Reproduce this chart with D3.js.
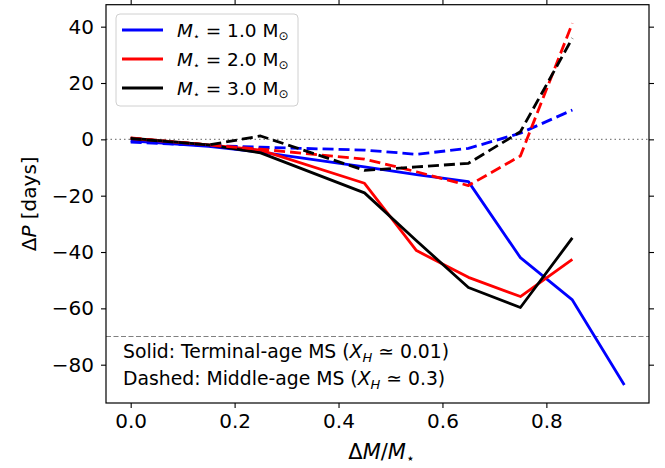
<!DOCTYPE html>
<html>
<head>
<meta charset="utf-8">
<script src="https://cdn.jsdelivr.net/npm/d3@7"></script>
<style>
body { margin: 0; background: #fff; }
text { font-family: 'DejaVu Sans', sans-serif; }
</style>
</head>
<body>
<script>
// mass lost fraction (x) and period change in days (y)
const massFrac = [0, 0.15, 0.25, 0.45, 0.55, 0.65, 0.75, 0.85, 0.95]
// solid: terminal-age MS
const tams1 = [-0.5, -2.5, -4.5, -9.8, -12.5, -15, -42, -57, -87.2]
const tams2 = [0.3, -2, -3.8, -15.6, -39.5, -49, -55.8, -42.6, null]
const tams3 = [0.4, -2, -4.8, -19, -36, -52.6, -59.7, -35, null]
// dashed: middle-age MS
const mams1 = [-1, -2.2, -2.8, -3.8, -5.3, -3.2, 2.2, 10.4, null]
const mams2 = [0.5, -2, -3.5, -7, -11.5, -16.4, -5.9, 41.2, null]
const mams3 = [0.3, -2, 1.2, -11, -9.8, -8.5, 2.7, 35.9, null]
const masses = ['1.0', '2.0', '3.0']
const colors = ['#0000ff', '#ff0000', '#000000']
const xTicks = [0, 0.2, 0.4, 0.6, 0.8]
const yTicks = [-80, -60, -40, -20, 0, 20, 40]

const width = 665, height = 468
const m = {left: 106, top: 4.7, right: 16, bottom: 65}
const w = width - m.left - m.right, h = height - m.top - m.bottom

const svg = d3.select('body').append('svg')
    .attr('width', width)
    .attr('height', height)

const x = d3.scaleLinear().domain([-0.0475, 0.9975]).range([0, w])
const y = d3.scaleLinear().domain([-93.6, 47.8]).range([h, 0])

const g = svg.append('g').attr('transform', `translate(${m.left},${m.top})`)

// reference lines
g.append('line')
    .attr('x1', 0).attr('x2', w)
    .attr('y1', y(0)).attr('y2', y(0))
    .attr('stroke', '#808080').attr('stroke-width', 1.2)
    .attr('stroke-dasharray', '1.5,3')
g.append('line')
    .attr('x1', 0).attr('x2', w)
    .attr('y1', y(-70)).attr('y2', y(-70))
    .attr('stroke', '#808080').attr('stroke-width', 1.2)
    .attr('stroke-dasharray', '5,2.5')

const series = [
    {vals: tams1, color: colors[0], dash: null},
    {vals: tams2, color: colors[1], dash: null},
    {vals: tams3, color: colors[2], dash: null},
    {vals: mams1, color: colors[0], dash: '11,5'},
    {vals: mams2, color: colors[1], dash: '11,5'},
    {vals: mams3, color: colors[2], dash: '11,5'},
]

const line = d3.line()
    .defined(d => d[1] != null)
    .x(d => x(d[0]))
    .y(d => y(d[1]))

g.selectAll('.series')
    .data(series).enter()
    .append('path')
    .attr('class', 'series')
    .attr('d', s => line(massFrac.map((v, i) => [v, s.vals[i]])))
    .attr('fill', 'none')
    .attr('stroke', s => s.color)
    .attr('stroke-width', 2.8)
    .attr('stroke-linejoin', 'round')
    .attr('stroke-dasharray', s => s.dash)

// axes on all four sides, labels only bottom/left
const fs = 20
const styleAxis = sel => {
    sel.select('.domain').remove()
    sel.selectAll('.tick line').attr('stroke', '#000').attr('stroke-width', 1.1)
    sel.selectAll('.tick text').attr('font-size', fs).attr('fill', '#000')
        .style('font-family', "'DejaVu Sans', sans-serif")
}
g.append('g').attr('transform', `translate(0,${h})`)
    .call(d3.axisBottom(x).tickValues(xTicks).tickFormat(d3.format('.1f')).tickSize(5).tickPadding(6))
    .call(styleAxis)
g.append('g')
    .call(d3.axisTop(x).tickValues(xTicks).tickFormat('').tickSize(5))
    .call(styleAxis)
g.append('g')
    .call(d3.axisLeft(y).tickValues(yTicks).tickFormat(d3.format('d')).tickSize(5).tickPadding(7))
    .call(styleAxis)
g.append('g').attr('transform', `translate(${w},0)`)
    .call(d3.axisRight(y).tickValues(yTicks).tickFormat('').tickSize(5))
    .call(styleAxis)

g.append('rect')
    .attr('width', w).attr('height', h)
    .attr('fill', 'none').attr('stroke', '#000').attr('stroke-width', 1.2)

// axis titles
const xl = svg.append('text')
    .attr('x', m.left + w / 2 + 4).attr('y', 459)
    .attr('text-anchor', 'middle').attr('font-size', 21)
xl.append('tspan').text('Δ')
xl.append('tspan').attr('font-style', 'italic').text('M')
xl.append('tspan').text('/')
xl.append('tspan').attr('font-style', 'italic').text('M')
xl.append('tspan').attr('font-size', 14).attr('dy', 4).text('⋆')

const yl = svg.append('text')
    .attr('transform', `translate(36,${m.top + h / 2}) rotate(-90)`)
    .attr('text-anchor', 'middle').attr('font-size', fs)
yl.append('tspan').text('Δ')
yl.append('tspan').attr('font-style', 'italic').text('P')
yl.append('tspan').text(' [days]')

// legend
const leg = svg.append('g').attr('transform', 'translate(116,14)')
leg.append('rect')
    .attr('width', 182).attr('height', 92).attr('rx', 4)
    .attr('fill', 'rgba(255,255,255,0.8)').attr('stroke', '#d0d0d0')
masses.forEach((ms, i) => {
    const ry = 16 + i * 29
    leg.append('line')
        .attr('x1', 6).attr('x2', 47).attr('y1', ry).attr('y2', ry)
        .attr('stroke', colors[i]).attr('stroke-width', 2.8)
    const t = leg.append('text')
        .attr('x', 61).attr('y', ry + 7).attr('font-size', 18.5)
    t.append('tspan').attr('font-style', 'italic').text('M')
    t.append('tspan').attr('font-size', 11).attr('dy', 3).text('⋆')
    t.append('tspan').attr('dy', -3).text(` = ${ms} M`)
    t.append('tspan').attr('font-size', 12).attr('dy', 3).text('⊙')
})

// annotation
const note = [
    ['Solid: Terminal-age MS (', '0.01)'],
    ['Dashed: Middle-age MS (', '0.3)'],
]
note.forEach((n, i) => {
    const t = svg.append('text')
        .attr('x', 123).attr('y', 358 + i * 27).attr('font-size', 18.8)
    t.append('tspan').text(n[0])
    t.append('tspan').attr('font-style', 'italic').text('X')
    t.append('tspan').attr('font-style', 'italic').attr('font-size', 13).attr('dy', 4).text('H')
    t.append('tspan').attr('dy', -4).text(' ≃ ' + n[1])
})
</script>
</body>
</html>
